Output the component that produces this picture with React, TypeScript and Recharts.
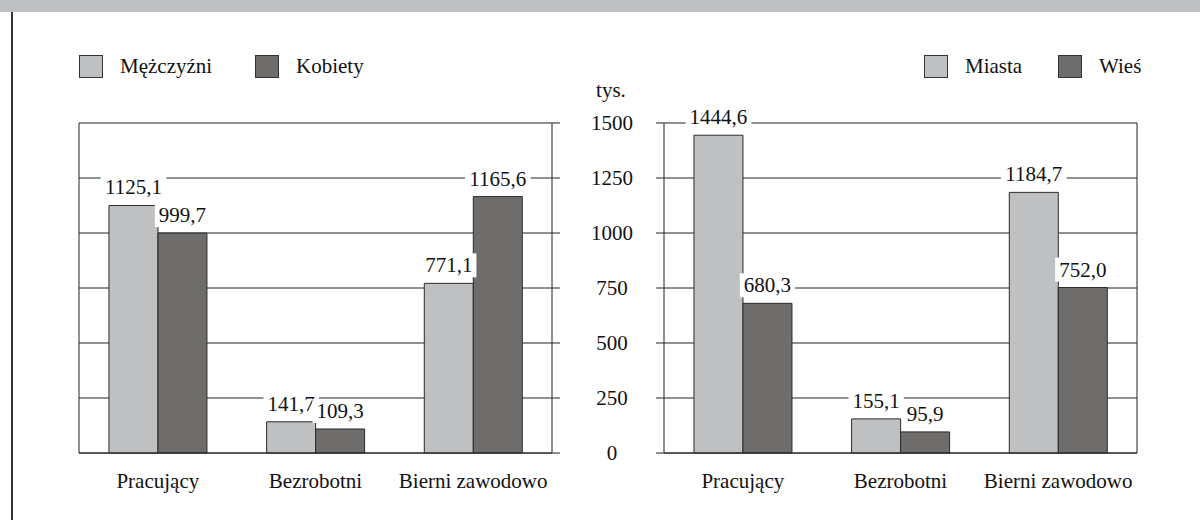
import React from 'react';
import { BarChart, Bar, XAxis, YAxis, CartesianGrid, LabelList } from 'recharts';

const categories = ['Pracujący', 'Bezrobotni', 'Bierni zawodowo'];
const menValues = [1125.1, 141.7, 771.1];
const womenValues = [999.7, 109.3, 1165.6];
const cityValues = [1444.6, 155.1, 1184.7];
const villageValues = [680.3, 95.9, 752.0];
const yTicks = [0, 250, 500, 750, 1000, 1250, 1500];
const leftSeries = ['Mężczyźni', 'Kobiety'];
const rightSeries = ['Miasta', 'Wieś'];
const unitLabel = 'tys.';

const FONT = "'Liberation Serif', 'DejaVu Serif', serif";
const FS = 21;
const LIGHT = '#bfc0c2';
const DARK = '#6e6d6b';
const INK = '#222';

const leftData = categories.map((name, i) => ({ name, a: menValues[i], b: womenValues[i] }));
const rightData = categories.map((name, i) => ({ name, a: cityValues[i], b: villageValues[i] }));

const fmt = (v: number) => v.toFixed(1).replace('.', ',');

const ValueLabel = (props: any) => {
    const { x, y, width, value } = props;
    const s = fmt(Number(value));
    const w = ((s.length - 1) * 0.5 + 0.25) * FS;
    const cx = x + width / 2;
    const base = y - 11;
    return (
        <g>
            <rect x={cx - w / 2 - 4} y={base - 19} width={w + 8} height={24} fill="#fff" />
            <text x={cx} y={base} textAnchor="middle" style={{ fontFamily: FONT }} fontSize={FS} fill="#111">
                {s}
            </text>
        </g>
    );
};

const CategoryTick = (props: any) => {
    const { x, y, payload } = props;
    return (
        <text x={x} y={y + 35} textAnchor="middle" style={{ fontFamily: FONT }} fontSize={FS} fill="#111">
            {payload.value}
        </text>
    );
};

const MiddleTick = (props: any) => {
    const { x, y, payload } = props;
    return (
        <text x={x + 52} y={y + 7} textAnchor="middle" style={{ fontFamily: FONT }} fontSize={FS} fill="#111">
            {payload.value}
        </text>
    );
};

const EmptyTick = () => <g />;

const LegendItem = ({ label, color, left }: { label: string; color: string; left: number }) => (
    <div style={{ position: 'absolute', left, top: 55, display: 'flex', alignItems: 'center' }}>
        <div style={{ width: 22, height: 21, background: color, border: '1px solid #333' }} />
        <span style={{ marginLeft: 17, fontFamily: FONT, fontSize: FS, color: '#111', lineHeight: '23px' }}>
            {label}
        </span>
    </div>
);

function Panel({ data, side }: { data: any[]; side: 'left' | 'right' }) {
    // left panel is wider so the shared middle scale fits inside its svg
    const width = side === 'left' ? 650 : 600;
    const margin =
        side === 'left'
            ? { top: 123, right: 97, bottom: 66, left: 78 }
            : { top: 123, right: 62, bottom: 66, left: 63 };
    const ticked = side === 'left' ? 'right' : 'left';
    const plain = side === 'left' ? 'left' : 'right';
    return (
        <BarChart
            width={width}
            height={520}
            data={data}
            margin={margin}
            barCategoryGap="19%"
            barGap={0}
        >
            <CartesianGrid vertical={false} stroke={INK} strokeWidth={1} />
            <XAxis
                dataKey="name"
                height={1}
                tickSize={0}
                tickMargin={0}
                axisLine={{ stroke: INK }}
                tickLine={false}
                tick={<CategoryTick />}
                interval={0}
            />
            <YAxis
                domain={[0, 1500]}
                ticks={yTicks}
                width={1}
                orientation={ticked}
                axisLine={{ stroke: INK }}
                tickLine={{ stroke: INK }}
                tickSize={8}
                tickMargin={0}
                tick={side === 'left' ? <MiddleTick /> : <EmptyTick />}
            />
            <YAxis
                yAxisId="edge"
                domain={[0, 1500]}
                ticks={yTicks}
                width={1}
                orientation={plain}
                axisLine={{ stroke: INK }}
                tickLine={false}
                tick={<EmptyTick />}
            />
            <Bar dataKey="a" fill={LIGHT} stroke="#2b2b2b" strokeWidth={1} isAnimationActive={false}>
                <LabelList dataKey="a" content={<ValueLabel />} />
            </Bar>
            <Bar dataKey="b" fill={DARK} stroke="#2b2b2b" strokeWidth={1} isAnimationActive={false}>
                <LabelList dataKey="b" content={<ValueLabel />} />
            </Bar>
        </BarChart>
    );
}

export default function App() {
    return (
        <div style={{ position: 'absolute', left: 0, top: 0, width: 1200, height: 520, background: '#fff', overflow: 'hidden' }}>
            <div style={{ position: 'absolute', left: 0, top: 0, width: 1200, height: 12, background: '#bfc0c2' }} />
            <div style={{ position: 'absolute', left: 11, top: 12, width: 2, height: 508, background: '#333' }} />
            <LegendItem label={leftSeries[0]} color={LIGHT} left={79} />
            <LegendItem label={leftSeries[1]} color={DARK} left={255} />
            <LegendItem label={rightSeries[0]} color={LIGHT} left={924} />
            <LegendItem label={rightSeries[1]} color={DARK} left={1058} />
            <div
                style={{
                    position: 'absolute',
                    left: 581,
                    top: 79,
                    width: 60,
                    textAlign: 'center',
                    fontFamily: FONT,
                    fontSize: FS,
                    color: '#111',
                    lineHeight: '22px',
                }}
            >
                {unitLabel}
            </div>
            <div style={{ position: 'absolute', left: 600, top: 0 }}>
                <Panel data={rightData} side="right" />
            </div>
            <div style={{ position: 'absolute', left: 0, top: 0 }}>
                <Panel data={leftData} side="left" />
            </div>
        </div>
    );
}
